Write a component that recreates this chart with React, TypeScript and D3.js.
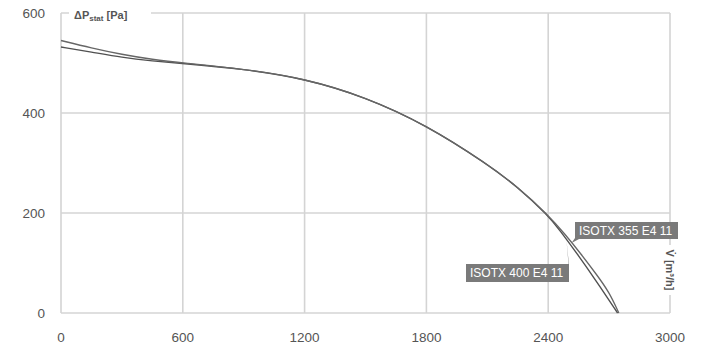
import React from "react";
import * as d3 from "d3";

const xTicks = [0, 600, 1200, 1800, 2400, 3000];
const yTicks = [0, 200, 400, 600];
const seriesNames = ["ISOTX 355 E4 11", "ISOTX 400 E4 11"];
const flow355 = [0, 150, 300, 450, 600, 900, 1200, 1500, 1800, 2100, 2250, 2400, 2480, 2560, 2640, 2700, 2748];
const press355 = [545, 530, 517, 507, 500, 488, 469, 432, 376, 298, 252, 196, 159, 119, 76, 42, 0];
const flow400 = [0, 150, 300, 450, 600, 900, 1200, 1500, 1800, 2100, 2250, 2400, 2460, 2540, 2630, 2742];
const press400 = [532, 522, 511, 504, 499, 488, 469, 432, 376, 298, 252, 195, 164, 120, 68, 0];

const W = 707, H = 347;

export default function App() {
  const x = d3.scaleLinear().domain([0, 3000]).range([61, 670]);
  const y = d3.scaleLinear().domain([0, 600]).range([313, 13]);
  const line = d3
    .line<[number, number]>()
    .x((d) => x(d[0]))
    .y((d) => y(d[1]))
    .curve(d3.curveBasis);
  const d355 = line(flow355.map((f, i) => [f, press355[i]] as [number, number]));
  const d400 = line(flow400.map((f, i) => [f, press400[i]] as [number, number]));
  const grid = "#d4d4d4";
  const font = "Liberation Sans, Arial, sans-serif";

  return (
    <div style={{ position: "absolute", left: 0, top: 0 }}>
      <svg width={W} height={H} style={{ display: "block", background: "#fff" }}>
        <rect width={W} height={H} fill="#fff" />
        {xTicks.map((t) => (
          <line key={"vx" + t} x1={x(t)} x2={x(t)} y1={y(600)} y2={y(0)} stroke={grid} strokeWidth={1.6} />
        ))}
        {yTicks.map((t) => (
          <line key={"hy" + t} x1={x(0)} x2={x(3000)} y1={y(t)} y2={y(t)} stroke={grid} strokeWidth={1.6} />
        ))}
        <path d={d400 || ""} fill="none" stroke="#505050" strokeWidth={1.4} />
        <path d={d355 || ""} fill="none" stroke="#666" strokeWidth={1.3} />
        <rect x={69} y={6} width={82} height={16} fill="#fff" />
        <text x={74} y={19} fontFamily={font} fontSize={11} fontWeight="bold" fill="#555">
          ΔP<tspan fontSize={8} dy={2}>stat</tspan>
          <tspan dy={-2}> [Pa]</tspan>
        </text>
        <rect x={662} y={245} width={15} height={50} fill="#fff" />
        <text
          transform={`translate(666,270) rotate(90)`}
          textAnchor="middle"
          fontFamily={font}
          fontSize={11}
          fontWeight="bold"
          fill="#555"
        >
          V̇ [m³/h]
        </text>
        {xTicks.map((t) => (
          <text key={"xl" + t} x={x(t)} y={342} textAnchor="middle" fontFamily={font} fontSize={13.5} fill="#555">
            {t}
          </text>
        ))}
        {yTicks.map((t) => (
          <text key={"yl" + t} x={45} y={y(t) + 5} textAnchor="end" fontFamily={font} fontSize={13.5} fill="#555">
            {t}
          </text>
        ))}
        <g>
          <path d={`M575,232 L575,238 L${x(2515)},${y(140)} L581,238 Z`} fill="#7a7a7a" />
          <rect x={575} y={222} width={103} height={17} fill="#7a7a7a" />
          <text x={579} y={235} fontFamily={font} fontSize={12} fill="#fff">
            {seriesNames[0]}
          </text>
        </g>
        <g>
          <path d={`M562,265 L569,265 L${x(2490)},${y(146)} L569,270 Z`} fill="#7a7a7a" />
          <rect x={466} y={264} width={103} height={18} fill="#7a7a7a" />
          <text x={470} y={277} fontFamily={font} fontSize={12} fill="#fff">
            {seriesNames[1]}
          </text>
        </g>
      </svg>
    </div>
  );
}
